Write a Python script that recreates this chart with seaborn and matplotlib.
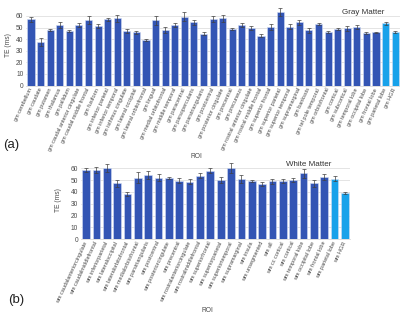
import matplotlib
matplotlib.use("Agg")
import matplotlib.pyplot as plt
import seaborn as sns
import numpy as np
import pandas as pd

gm_labels = ["gm cerebellum", "gm caudate", "gm putamen", "gm thalamus", "gm pallidum",
             "gm caudal anterior cingulate", "gm caudal middle frontal", "gm fusiform",
             "gm inferior parietal", "gm inferior temporal", "gm isthmus cingulate",
             "gm lateral occipital", "gm lateral orbitofrontal", "gm lingual",
             "gm medial orbitofrontal", "gm middle temporal", "gm paracentral",
             "gm parsopercularis", "gm parstriangularis", "gm postcentral",
             "gm posterior cingulate", "gm precentral", "gm precuneus",
             "gm rostral anterior cingulate", "gm rostral middle frontal",
             "gm superior frontal", "gm superior parietal", "gm superior temporal",
             "gm supramarginal", "gm bankssts", "gm tel pole temporal", "gm orbitofrontal",
             "gm cortical", "gm subcortical", "gm temporal lobe", "gm occipital lobe",
             "gm frontal lobe", "gm parietal lobe", "gm HGR"]
gm_values = [57.1, 37.8, 47.9, 52.2, 47.1, 52.2, 56.5, 51.4, 57.1, 58.0,
             47.1, 45.9, 39.3, 56.3, 47.9, 52.2, 59.4, 54.5, 44.8, 57.4,
             58.0, 48.8, 51.9, 49.7, 43.0, 50.5, 63.2, 50.8, 54.5, 47.6,
             52.8, 46.2, 48.8, 49.4, 50.5, 45.3, 45.9, 53.7, 45.9]
gm_errors = [2.3, 3.5, 1.0, 2.3, 0.6, 1.4, 3.4, 1.7, 1.4, 3.2,
             1.7, 1.4, 0.9, 3.7, 2.3, 1.4, 3.7, 2.0, 1.4, 2.9,
             2.9, 1.1, 1.7, 1.7, 1.4, 2.6, 3.4, 2.3, 2.0, 2.0,
             0.9, 0.9, 0.9, 2.0, 1.7, 0.6, 0.6, 1.1, 0.9]

wm_labels = ["wm caudalanteriorcingulate", "wm caudalmiddlefrontal", "wm inferiorparietal",
             "wm lateraloccipital", "wm lateralorbitofrontal", "wm medialorbitofrontal",
             "wm parstriangularis", "wm postcentral", "wm posteriorcingulate", "wm precentral",
             "wm rostralanteriorcingulate", "wm rostralmiddlefrontal", "wm superiorfrontal",
             "wm superiorparietal", "wm superiortemporal", "wm supramarginal", "wm insula",
             "wm unsegmented", "wm all", "wm cc cortical", "wm cortical", "wm temporal lobe",
             "wm occipital lobe", "wm frontal lobe", "wm parietal lobe", "wm HGR"]
wm_values = [58.6, 58.6, 60.0, 47.3, 37.9, 52.1, 54.3, 52.1, 52.1, 49.5,
             48.7, 53.8, 58.0, 50.1, 60.5, 50.9, 49.2, 46.4, 48.9, 49.2,
             49.8, 55.7, 47.3, 52.6, 51.2, 39.3]
wm_errors = [1.7, 2.3, 3.4, 2.8, 1.7, 4.8, 3.4, 2.8, 0.8, 2.0,
             2.3, 2.0, 2.3, 2.8, 4.2, 3.7, 0.8, 1.7, 2.0, 1.7,
             1.7, 3.7, 2.8, 2.5, 2.3, 0.8]

DARK = "#3355B4"
LIGHT = "#18A2EA"
GRID = "#D9D9D9"
TXT = "#4A4A4A"

sns.set_theme(style="white")
plt.rcParams['font.family'] = ['Liberation Sans', 'DejaVu Sans']

fig = plt.figure(figsize=(4.0, 3.18), dpi=100)
W, H = 400, 318


def panel(rect_px, labels, values, errors, title, title_xy, ylab_xy, roi_xy, tag, tag_xy):
    x0, x1, y0px, ppu = rect_px
    ymax = 68
    top = y0px - ymax * ppu
    ax = fig.add_axes([x0 / W, 1 - y0px / H, (x1 - x0) / W, (y0px - top) / H])
    df = pd.DataFrame({"roi": labels, "te": values})
    colors = [DARK] * (len(labels) - 2) + [LIGHT, LIGHT]
    sns.barplot(data=df, x="roi", y="te", hue="roi", palette=colors, legend=False,
                width=0.74, saturation=1, ax=ax, edgecolor="#D2DDF3", linewidth=0.4, zorder=2)
    ax.errorbar(np.arange(len(labels)), values, yerr=errors, fmt="none",
                ecolor="#404040", elinewidth=0.5, capsize=1.2, capthick=0.5, zorder=3)
    ax.set_xlim(-0.5, len(labels) - 0.5)
    ax.set_ylim(0, ymax)
    ax.set_yticks(range(0, 61, 10))
    for v in range(10, 61, 10):
        ax.axhline(v, color=GRID, lw=0.5, zorder=0)
    for s in ["top", "right", "left"]:
        ax.spines[s].set_visible(False)
    ax.spines["bottom"].set_color(GRID)
    ax.spines["bottom"].set_linewidth(0.6)
    ax.tick_params(axis="y", length=0, pad=2, labelsize=4.8, labelcolor=TXT)
    ax.tick_params(axis="x", length=0, pad=2, labelsize=4.0, labelcolor=TXT)
    ax.set_xticks(range(len(labels)))
    ax.set_xticklabels(labels, rotation=65, ha="right", rotation_mode="anchor", va="center")
    ax.set_xlabel("")
    ax.set_ylabel("")
    fig.text(title_xy[0] / W, 1 - title_xy[1] / H, title, fontsize=5.8, color="#333333",
             ha="center", va="center")
    fig.text(ylab_xy[0] / W, 1 - ylab_xy[1] / H, "TE (ms)", fontsize=4.8, color=TXT,
             rotation=90, ha="center", va="center")
    fig.text(roi_xy[0] / W, 1 - roi_xy[1] / H, "ROI", fontsize=4.8, color=TXT,
             ha="center", va="center")
    fig.text(tag_xy[0] / W, 1 - tag_xy[1] / H, tag, fontsize=9.5, color="#222222",
             ha="center", va="center")
    return ax


panel((26.2, 400.0, 85.6, 1.16), gm_labels, gm_values, gm_errors,
      "Gray Matter", (363, 12), (9, 45), (196, 156), "(a)", (11, 145))
panel((80.8, 350.2, 239.1, 1.18), wm_labels, wm_values, wm_errors,
      "White Matter", (309, 164), (59, 200), (207, 311), "(b)", (16, 300))

fig.savefig("out.png", dpi=100, facecolor="white")
